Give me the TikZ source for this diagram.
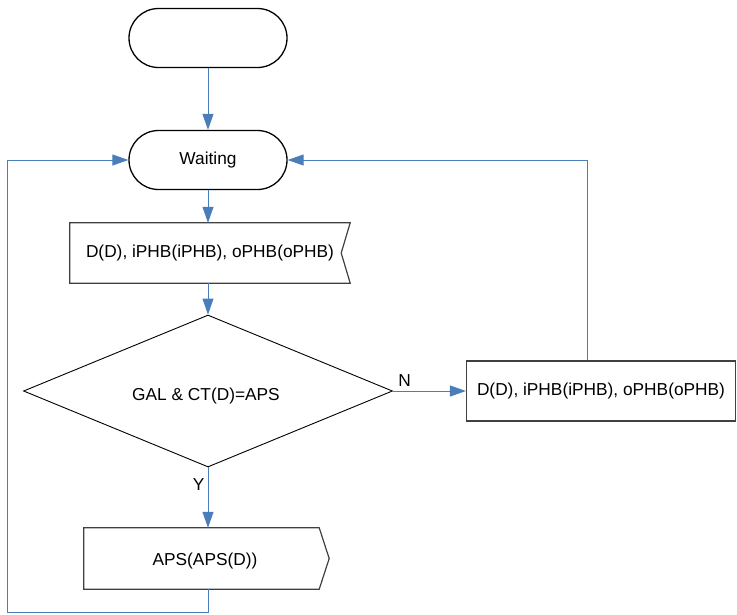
\documentclass[tikz,border=0pt]{standalone}
\usepackage{fontspec}
\setmainfont{Liberation Sans}
\usetikzlibrary{arrows.meta,shapes.geometric,calc}

\definecolor{flowblue}{RGB}{74,126,187}
\definecolor{boxline}{RGB}{64,64,64}

\tikzset{
  lbl/.style={font=\fontsize{17.3}{20}\selectfont, text=black},
  terminal/.style={lbl, draw=black, line width=1.3pt, rectangle,
    rounded corners=29.5pt, minimum width=158pt, minimum height=59pt, inner sep=0pt},
  plainbox/.style={lbl, draw=boxline, line width=1.2pt, rectangle,
    minimum width=269pt, minimum height=60pt, inner sep=0pt},
  shapebox/.style={lbl, rectangle, inner sep=0pt},
  outline/.style={draw=boxline, line width=1.2pt},
  decision/.style={lbl, draw=black, line width=0.9pt, diamond, aspect=2.43,
    minimum width=369pt, minimum height=152pt, inner sep=0pt},
  flow/.style={draw=flowblue, line width=1pt,
    -{Triangle[length=16pt, width=11pt]}},
  tag/.style={lbl, inner sep=1pt}
}

\begin{document}
\begin{tikzpicture}[x=1pt, y=-1pt]
  \useasboundingbox (0,0) rectangle (737,614);

  % terminals
  \node[terminal] (start) at (208,38) {};
  \node[terminal] (wait) at (208,160) {Waiting};

  % receive-signal box (notched right side)
  \node[shapebox, minimum width=280pt, minimum height=60pt] (recv) at (210,253)
    {D(D), iPHB(iPHB), oPHB(oPHB)};
  \draw[outline] (recv.north west) -- (recv.north east)
    -- ($(recv.east)+(-9,0)$) -- (recv.south east) -- (recv.south west) -- cycle;

  % decision
  \node[decision] (dec) at (208,391) {};
  \node[lbl] (cond) at (206,396) {GAL \& CT(D)=APS};

  % process box on the N branch
  \node[plainbox] (upd) at (601,391) {D(D), iPHB(iPHB), oPHB(oPHB)};

  % send-signal box (pointed right side)
  \node[shapebox, minimum width=235pt, minimum height=61pt] (aps) at (201.5,558.5) {};
  \node[lbl] (apstext) at (205,561) {APS(APS(D))};
  \draw[outline] (aps.north west) -- (aps.north east)
    -- ($(aps.east)+(10,0)$) -- (aps.south east) -- (aps.south west) -- cycle;

  % connectors
  \draw[flow] (start.south) -- (wait.north);
  \draw[flow] (wait.south) -- (wait.south |- recv.north);
  \draw[flow] (recv.south -| wait.south) -- (dec.north);
  \draw[flow] (dec.east) -- node[tag, pos=0.16, above, yshift=3pt] (nlab) {N} (upd.west);
  \draw[flow] (dec.south) -- node[tag, pos=0.28, left, xshift=-2pt] (ylab) {Y} (dec.south |- aps.north);

  % loop back from the N branch
  \coordinate (updtop) at ($(upd.north west)!0.45!(upd.north east)$);
  \draw[flow] (updtop) |- (wait.east);

  % loop back from the Y branch
  \draw[flow] (aps.south -| dec.south) -- ++(0,23) -| ([xshift=-121pt]wait.west) -- (wait.west);
\end{tikzpicture}
\end{document}
